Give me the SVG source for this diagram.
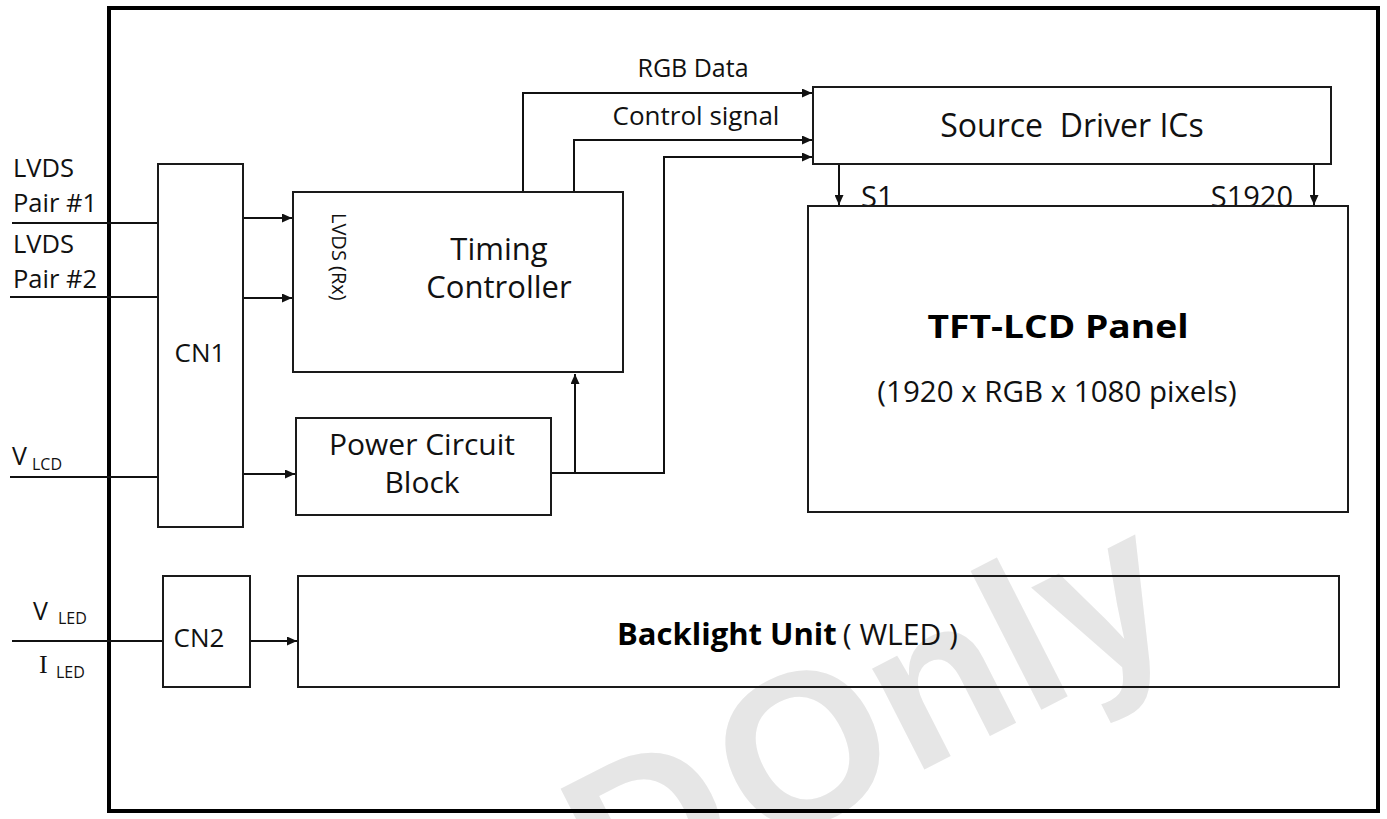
<svg xmlns="http://www.w3.org/2000/svg" width="1387" height="819" viewBox="0 0 1387 819">
<style>
.box{fill:none;stroke:#1a1a1a;stroke-width:2}
.frame{fill:none;stroke:#000;stroke-width:4}
.ln{fill:none;stroke:#111;stroke-width:2}
.t{font-family:"Open Sans","Noto Sans",sans-serif;fill:#111}
.b{font-family:"Open Sans","Noto Sans",sans-serif;font-weight:bold;fill:#000}
.wm{font-family:"Liberation Sans",Arial,sans-serif;font-weight:bold;fill:#e6e6e6}
</style>
<defs>
<marker id="ar" markerUnits="userSpaceOnUse" markerWidth="11" markerHeight="9" refX="10" refY="4.5" orient="auto">
<path d="M0,0 L10,4.5 L0,9 z" fill="#111"/>
</marker>
</defs>
<rect x="0" y="0" width="1387" height="819" fill="#fff"/>
<text class="wm" font-size="215" transform="translate(615,927) rotate(-27)">D<tspan dx="-50"> Only</tspan></text>
<rect class="frame" x="109" y="8" width="1269" height="803"/>
<g id="connectors">
<line class="ln" x1="12" y1="223" x2="158" y2="223"/>
<line class="ln" x1="10" y1="297" x2="158" y2="297"/>
<line class="ln" x1="10" y1="477" x2="158" y2="477"/>
<line class="ln" x1="12" y1="641" x2="162" y2="641"/>
<line class="ln" x1="243" y1="218" x2="292" y2="218" marker-end="url(#ar)"/>
<line class="ln" x1="243" y1="298" x2="292" y2="298" marker-end="url(#ar)"/>
<line class="ln" x1="243" y1="474" x2="295" y2="474" marker-end="url(#ar)"/>
<line class="ln" x1="250" y1="641" x2="297" y2="641" marker-end="url(#ar)"/>
<polyline class="ln" points="523,191 523,93 812,93" marker-end="url(#ar)"/>
<polyline class="ln" points="574,191 574,140 812,140" marker-end="url(#ar)"/>
<polyline class="ln" points="551,473 664,473 664,157 812,157" marker-end="url(#ar)"/>
<line class="ln" x1="575" y1="473" x2="575" y2="374" marker-end="url(#ar)"/>
<line class="ln" x1="839" y1="164" x2="839" y2="205" marker-end="url(#ar)"/>
<line class="ln" x1="1314" y1="164" x2="1314" y2="205" marker-end="url(#ar)"/>
</g>
<g id="labels">
<text class="t" font-size="25.5" x="13" y="177">LVDS</text>
<text class="t" font-size="25.5" x="13" y="212">Pair #1</text>
<text class="t" font-size="25.5" x="13" y="253">LVDS</text>
<text class="t" font-size="25.5" x="13" y="288">Pair #2</text>
<text class="t" font-size="25" x="12" y="465">V</text>
<text class="t" font-size="16" x="32" y="470">LCD</text>
<text class="t" font-size="25" x="33" y="620">V</text>
<text class="t" font-size="16" x="58" y="624">LED</text>
<text font-family="'Liberation Serif',serif" font-size="26" fill="#111" x="39" y="673">I</text>
<text class="t" font-size="16" x="56" y="678">LED</text>
<text class="t" font-size="25" x="693" y="77" text-anchor="middle">RGB Data</text>
<text class="t" font-size="26" x="696" y="125" text-anchor="middle">Control signal</text>
<text class="t" font-size="29" x="861" y="207">S1</text>
<text class="t" font-size="29" x="1293" y="207" text-anchor="end">S1920</text>
</g>
<g id="cn1">
<rect class="box" x="158" y="164" width="85" height="363"/>
<text class="t" font-size="26" x="200" y="362" text-anchor="middle">CN1</text>
</g>
<g id="timing-controller">
<rect class="box" x="293" y="192" width="330" height="180"/>
<text class="t" font-size="20" transform="translate(332,213) rotate(90)">LVDS (Rx)</text>
<text class="t" font-size="31" x="499" y="260" text-anchor="middle">Timing</text>
<text class="t" font-size="31" x="499" y="298" text-anchor="middle">Controller</text>
</g>
<g id="power-circuit">
<rect class="box" x="296" y="418" width="255" height="97"/>
<text class="t" font-size="30" x="422" y="455" text-anchor="middle">Power Circuit</text>
<text class="t" font-size="30" x="422" y="493" text-anchor="middle">Block</text>
</g>
<g id="source-driver">
<rect class="box" x="813" y="87" width="518" height="77"/>
<text class="t" font-size="32" x="1072" y="137" text-anchor="middle" style="white-space:pre">Source  Driver ICs</text>
</g>
<g id="tft-panel">
<rect class="box" x="808" y="206" width="540" height="306"/>
<text class="b" font-size="32" x="1058" y="338" text-anchor="middle" textLength="261" lengthAdjust="spacingAndGlyphs">TFT-LCD Panel</text>
<text class="t" font-size="29.5" x="1057" y="402" text-anchor="middle">(1920 x RGB x 1080 pixels)</text>
</g>
<g id="cn2">
<rect class="box" x="163" y="576" width="87" height="111"/>
<text class="t" font-size="26" x="199" y="647" text-anchor="middle">CN2</text>
</g>
<g id="backlight">
<rect class="box" x="298" y="576" width="1041" height="111"/>
<text x="617" y="645"><tspan class="b" font-size="31">Backlight Unit</tspan><tspan class="t" font-size="30" dx="6">( WLED )</tspan></text>
</g>
</svg>
